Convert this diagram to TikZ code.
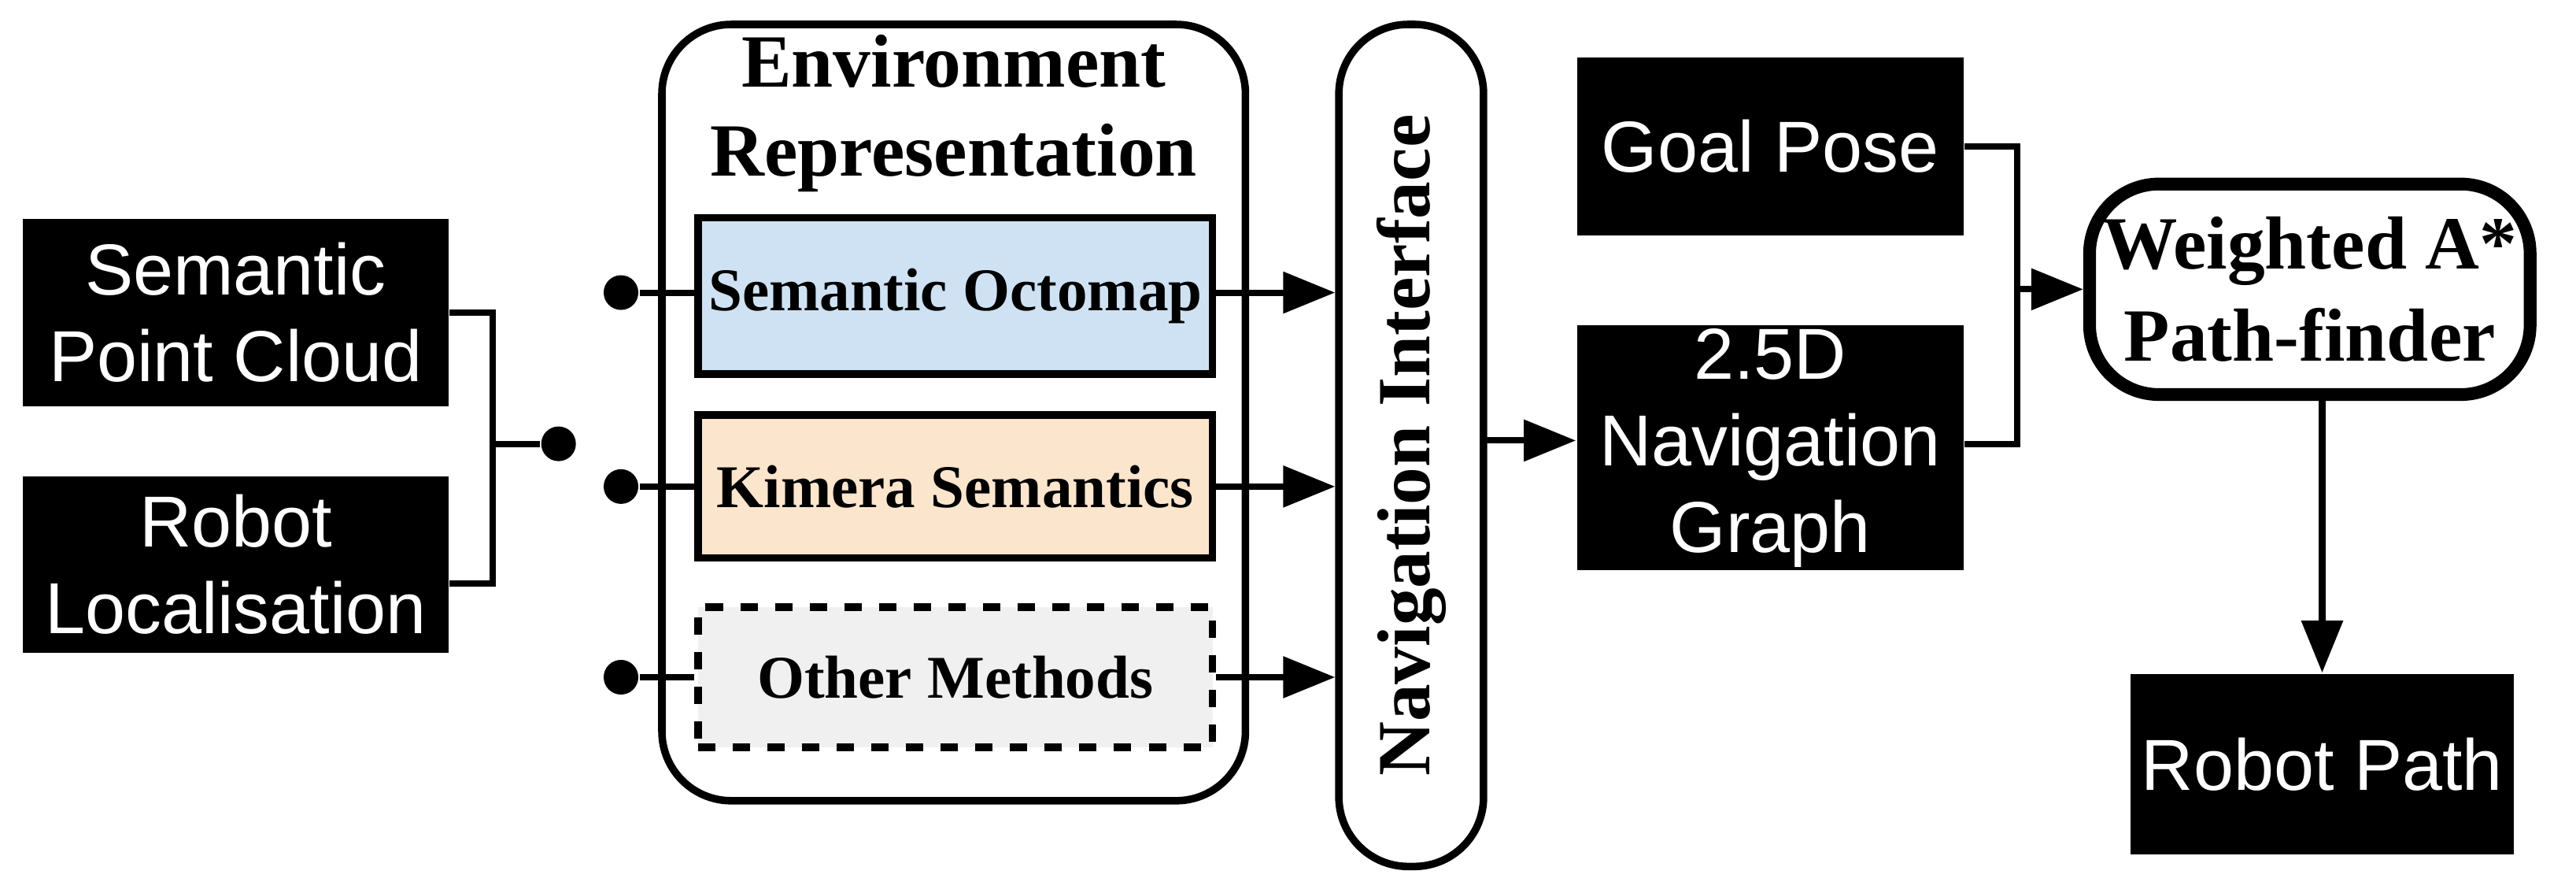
\documentclass[tikz,border=0pt]{standalone}
\usepackage{fontspec}
\setmainfont{Liberation Serif}
\newfontfamily\sansf{Liberation Sans}
\usetikzlibrary{arrows.meta}
\begin{document}
\begin{tikzpicture}[x=0.01cm,y=-0.01cm,
  blk/.style={fill=black,text=white,font=\sansf\fontsize{12.5}{15}\selectfont,align=center,inner sep=0},
  sub/.style={draw,line width=1.3pt,font=\bfseries\fontsize{10.5}{12}\selectfont,inner sep=0},
  ln/.style={line width=1.1pt},
  arr/.style={ln,-{Triangle[length=9pt,width=7pt]}},
  dot/.style={circle,fill=black,inner sep=0,minimum size=6pt}]
\useasboundingbox (0,0) rectangle (1568,543);
\node[blk,minimum width=2.59cm,minimum height=1.14cm] (spc) at (143.5,190) {Semantic\\Point Cloud};
\node[blk,minimum width=2.59cm,minimum height=1.07cm] (rl) at (143.5,343.5) {Robot\\Localisation};
\coordinate (j1) at (300,190);
\coordinate (j2) at (300,355);
\coordinate (j3) at (300,270);
\node[dot] (d0) at (340,270) {};
\draw[ln] (spc.east) -- (j1) -- (j2) -- (rl.east |- j2);
\draw[ln] (j3) -- (d0);

\node[draw,line width=1.3pt,rounded corners=12pt,minimum width=3.55cm,minimum height=4.72cm,inner sep=0] (env) at (580.5,251) {};
\node[font=\bfseries\fontsize{13}{15.5}\selectfont,align=center] (envt) at (580.5,69) {Environment\\Representation};
\node[sub,fill={rgb,255:red,207;green,226;blue,243},minimum width=3.13cm,minimum height=0.95cm] (so) at (581.5,180) {Semantic Octomap};
\node[sub,fill={rgb,255:red,252;green,229;blue,205},minimum width=3.13cm,minimum height=0.87cm] (ks) at (581.5,296) {Kimera Semantics};
\node[sub,dashed,fill={rgb,255:red,240;green,240;blue,240},minimum width=3.13cm,minimum height=0.85cm] (om) at (581.5,412) {Other Methods};
\node[dot] (d1) at (378,178) {};
\node[dot] (d2) at (378,296) {};
\node[dot] (d3) at (378,412) {};
\draw[ln] (d1) -- (d1 -| so.west);
\draw[ln] (d2) -- (ks.west);
\draw[ln] (d3) -- (om.west);

\node[draw,line width=1.3pt,rounded corners=12pt,minimum width=0.88cm,minimum height=5.12cm,inner sep=0] (ni) at (859,271) {};
\node[rotate=90,font=\bfseries\fontsize{13}{15}\selectfont] (nit) at (859,271) {Navigation Interface};
\draw[arr] (d1 -| so.east) -- (d1 -| ni.west);
\draw[arr] (ks.east) -- (ks.east -| ni.west);
\draw[arr] (om.east) -- (om.east -| ni.west);

\node[blk,minimum width=2.35cm,minimum height=1.08cm] (gp) at (1077.5,89) {Goal Pose};
\node[blk,minimum width=2.35cm,minimum height=1.49cm] (ng) at (1077.5,272.5) {2.5D\\Navigation\\Graph};
\coordinate (n1) at (903,268);
\draw[arr] (n1) -- (n1 -| ng.west);

\node[draw,line width=2.2pt,rounded corners=12pt,minimum width=2.68cm,minimum height=1.28cm,inner sep=0,align=center,font=\bfseries\fontsize{13}{16}\selectfont] (wa) at (1406,176) {Weighted A*\\Path-finder};
\coordinate (g1) at (1228,89);
\coordinate (g2) at (1228,270);
\coordinate (g3) at (1228,176);
\draw[ln] (gp.east) -- (g1) -- (g2) -- (ng.east |- g2);
\draw[arr] (g3) -- (wa.west);

\node[blk,minimum width=2.33cm,minimum height=1.10cm] (rp) at (1413.5,465) {Robot Path};
\draw[arr] (wa.south -| rp.north) -- (rp.north);
\end{tikzpicture}
\end{document}
